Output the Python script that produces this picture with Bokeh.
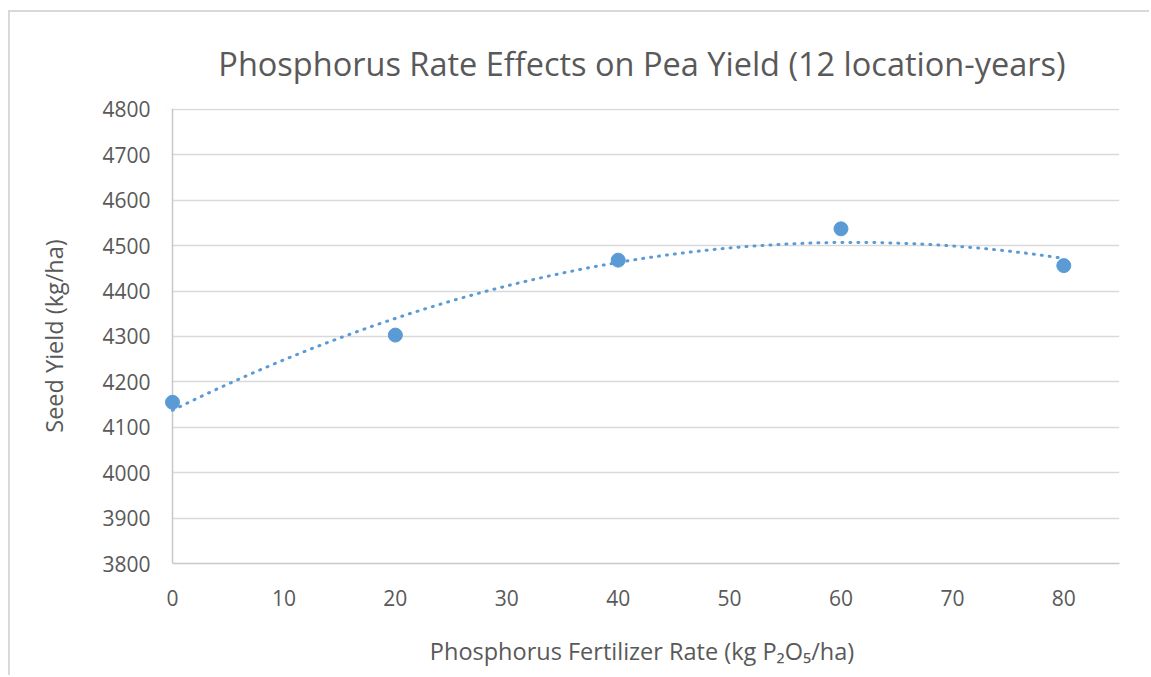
import numpy as np
from bokeh.plotting import figure
from bokeh.models import Range1d, FixedTicker, BoxAnnotation, Span
from bokeh.embed import file_html
from bokeh.resources import INLINE

# ---- data ----
rate = [0, 20, 40, 60, 80]
seed_yield = [4155, 4303, 4468, 4537, 4456]
x_ticks = [0, 10, 20, 30, 40, 50, 60, 70, 80]
y_ticks = [3800, 3900, 4000, 4100, 4200, 4300, 4400, 4500, 4600, 4700, 4800]
title_text = "Phosphorus Rate Effects on Pea Yield (12 location-years)"
x_label = "Phosphorus Fertilizer Rate (kg P\u2082O\u2085/ha)"
y_label = "Seed Yield (kg/ha)"

# polynomial (order 2) trendline, as in the original spreadsheet chart
coef = np.polyfit(rate, seed_yield, 2)
trend_x = np.linspace(min(rate), max(rate), 200)
trend_y = np.polyval(coef, trend_x)

FONT = "Open Sans"
TXT = "#595959"
BLUE = "#5B9BD5"
GRID = "#d9d9d9"
AXIS = "#c8c8c8"

W, H = 1141, 665
p = figure(width=W, height=H,
           x_range=Range1d(-0.72, 85), y_range=Range1d(3800, 4802),
           output_backend="svg", toolbar_location=None,
           min_border_left=154, min_border_top=96,
           min_border_right=32, min_border_bottom=114)
p.styles = {"margin-left": "8px", "margin-top": "10px",
            "border-top": "2px solid #d9d9d9",
            "border-left": "2px solid #d9d9d9"}
p.outline_line_color = None
p.background_fill_color = "white"
p.border_fill_color = "white"

p.title.text = title_text
p.title.align = "center"
p.title.text_font = FONT
p.title.text_font_size = "32.5px"
p.title.text_font_style = "normal"
p.title.text_color = TXT
p.title.standoff = 46

# grid
p.xgrid.visible = False
p.ygrid.ticker = FixedTicker(ticks=y_ticks)
p.ygrid.grid_line_color = GRID
p.ygrid.grid_line_width = 1.5

# mask grid left of x=0
mask = BoxAnnotation(right=0, fill_color="white", fill_alpha=1.0,
                     line_alpha=0, level="underlay")
p.add_layout(mask, "center")
# y axis line at x=0
p.add_layout(Span(location=0, dimension="height", line_color=AXIS,
                  line_width=1.5, level="underlay"))

for ax in (p.xaxis, p.yaxis):
    ax.axis_line_color = AXIS
    ax.axis_line_width = 1.5
    ax.major_tick_line_color = None
    ax.minor_tick_line_color = None
    ax.major_tick_out = 0
    ax.major_tick_in = 0
    ax.major_label_text_font = FONT
    ax.major_label_text_font_size = "21px"
    ax.major_label_text_color = TXT
    ax.axis_label_text_font = FONT
    ax.axis_label_text_font_size = "23.5px"
    ax.axis_label_text_font_style = "normal"
    ax.axis_label_text_color = TXT

p.xaxis.ticker = FixedTicker(ticks=x_ticks)
p.xaxis.bounds = (0, 85)
p.xaxis.major_label_standoff = 26
p.xaxis.axis_label = x_label
p.xaxis.axis_label_standoff = 26

p.yaxis.ticker = FixedTicker(ticks=y_ticks)
p.yaxis.axis_line_color = None
p.yaxis.major_label_standoff = 14
p.yaxis.axis_label = y_label
p.yaxis.axis_label_standoff = 29

p.line(trend_x, trend_y, line_color=BLUE, line_width=3,
       line_dash="1 7", line_cap="round")
p.scatter(rate, seed_yield, size=14, fill_color=BLUE, line_color=BLUE)

open("out.html", "w").write(file_html(p, INLINE))
